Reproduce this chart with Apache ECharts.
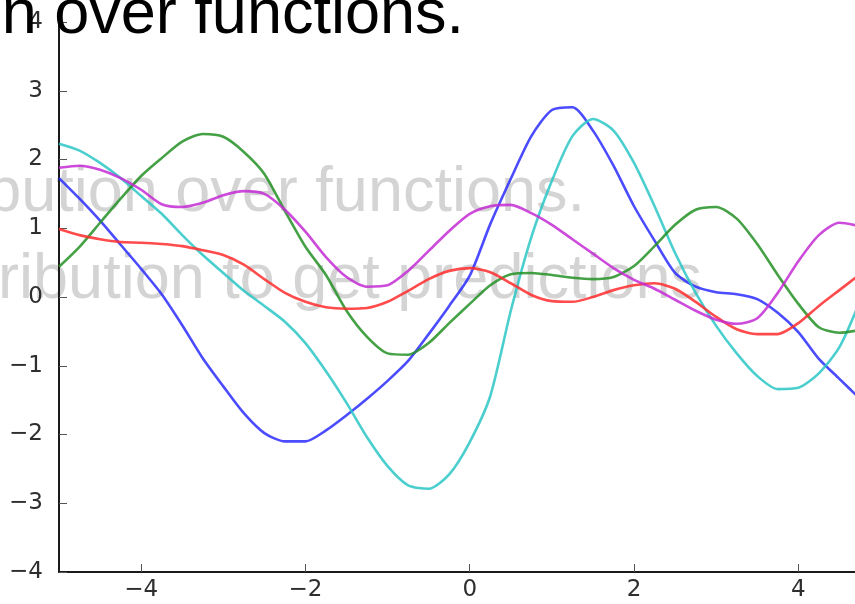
<!DOCTYPE html>
<html>
<head>
<meta charset="utf-8">
<script src="https://cdn.jsdelivr.net/npm/echarts@6/dist/echarts.min.js"></script>
<style>
  html, body { margin: 0; padding: 0; background: #fff; }
  #chart { width: 855px; height: 604px; }
</style>
</head>
<body>
<div id="chart"></div>
<script>
// Five sample functions drawn from a Gaussian process prior, sampled every 0.25 on x.
const xs = [-5, -4.75, -4.5, -4.25, -4, -3.75, -3.5, -3.25, -3, -2.75, -2.5, -2.25, -2, -1.75, -1.5, -1.25, -1, -0.75, -0.5, -0.25,
  0, 0.25, 0.5, 0.75, 1, 1.25, 1.5, 1.75, 2, 2.25, 2.5, 2.75, 3, 3.25, 3.5, 3.75, 4, 4.25, 4.5, 4.75];

const blueSample = [1.73, 1.43, 1.11, 0.76, 0.41, 0.04, -0.41, -0.89, -1.30, -1.69, -1.98, -2.10, -2.10, -1.94, -1.72, -1.48, -1.22, -0.93, -0.54, -0.13,
  0.31, 1.06, 1.72, 2.34, 2.72, 2.76, 2.42, 1.91, 1.32, 0.82, 0.35, 0.15, 0.07, 0.04, -0.03, -0.23, -0.51, -0.90, -1.19, -1.48];
const cyanSample = [2.23, 2.13, 1.95, 1.73, 1.47, 1.21, 0.90, 0.61, 0.35, 0.09, -0.13, -0.36, -0.67, -1.08, -1.54, -2.04, -2.46, -2.74, -2.79, -2.58,
  -2.11, -1.44, -0.20, 0.87, 1.69, 2.34, 2.59, 2.42, 1.95, 1.32, 0.64, 0.06, -0.42, -0.82, -1.15, -1.34, -1.32, -1.11, -0.73, -0.06];
const greenSample = [0.44, 0.73, 1.08, 1.43, 1.76, 2.02, 2.26, 2.37, 2.33, 2.11, 1.79, 1.25, 0.73, 0.32, -0.20, -0.58, -0.82, -0.84, -0.67, -0.38,
  -0.10, 0.17, 0.33, 0.35, 0.32, 0.28, 0.26, 0.29, 0.45, 0.74, 1.05, 1.27, 1.31, 1.14, 0.77, 0.32, -0.10, -0.44, -0.52, -0.48];
const redSample = [0.99, 0.90, 0.84, 0.80, 0.79, 0.77, 0.74, 0.68, 0.61, 0.47, 0.26, 0.06, -0.07, -0.15, -0.17, -0.16, -0.07, 0.09, 0.26, 0.38,
  0.42, 0.36, 0.20, 0.03, -0.06, -0.07, 0.00, 0.10, 0.17, 0.20, 0.12, -0.07, -0.29, -0.47, -0.54, -0.54, -0.38, -0.13, 0.10, 0.33];
const magentaSample = [1.88, 1.91, 1.85, 1.73, 1.56, 1.35, 1.31, 1.37, 1.48, 1.54, 1.50, 1.27, 0.95, 0.58, 0.29, 0.15, 0.17, 0.38, 0.67, 0.96,
  1.21, 1.32, 1.34, 1.22, 1.05, 0.84, 0.63, 0.42, 0.25, 0.12, -0.04, -0.20, -0.33, -0.39, -0.31, 0.06, 0.52, 0.90, 1.08, 1.03];

const xTicks = [-4, -2, 0, 2, 4];

const samples = [
  { values: blueSample, color: '#2b2bff' },
  { values: cyanSample, color: '#2cc6c6' },
  { values: greenSample, color: '#259125' },
  { values: redSample, color: '#ff2b2b' },
  { values: magentaSample, color: '#c42cd4' }
];

const fmt = v => (v < 0 ? '\u2212' + Math.abs(v) : String(v));
const tickFont = { fontFamily: 'DejaVu Sans', fontSize: 23, color: '#2e2e2e' };
const slideFont = '63px "Liberation Sans", Arial, sans-serif';

const chart = echarts.init(document.getElementById('chart'), null, { renderer: 'canvas' });
chart.setOption({
  animation: false,
  backgroundColor: '#ffffff',
  grid: { left: 59, right: 0, top: 22, bottom: 32, containLabel: false },
  xAxis: {
    type: 'value', min: -5, max: 4.69,
    axisLine: { show: true, onZero: false, lineStyle: { color: '#1a1a1a', width: 2 } },
    axisTick: { show: true, inside: true, length: 8, customValues: xTicks, lineStyle: { color: '#555', width: 1 } },
    axisLabel: Object.assign({ customValues: xTicks, margin: 7, formatter: fmt }, tickFont),
    splitLine: { show: false }
  },
  yAxis: {
    type: 'value', min: -4, max: 4, interval: 1,
    axisLine: { show: true, onZero: false, lineStyle: { color: '#1a1a1a', width: 2 } },
    axisTick: { show: true, inside: true, length: 8, lineStyle: { color: '#555', width: 1 } },
    axisLabel: Object.assign({ margin: 16, formatter: fmt }, tickFont),
    splitLine: { show: false }
  },
  graphic: {
    elements: [
      { type: 'text', x: 585, y: 194, z: 0, silent: true,
        style: { text: 'bution over functions.', font: slideFont, fill: '#d4d4d4', align: 'right', verticalAlign: 'middle' } },
      { type: 'text', x: 702, y: 281, z: 0, silent: true,
        style: { text: 'ribution to get predictions', font: slideFont, fill: '#d4d4d4', align: 'right', verticalAlign: 'middle' } },
      { type: 'text', x: 464, y: 16, z: 100, silent: true,
        style: { text: 'n over functions.', font: slideFont, fill: '#000000', align: 'right', verticalAlign: 'middle' } }
    ]
  },
  series: samples.map(s => ({
    type: 'line',
    data: xs.map((x, i) => [x, s.values[i]]),
    showSymbol: false,
    smooth: 0.25,
    clip: true,
    z: 5,
    lineStyle: { color: s.color, width: 2.6, opacity: 0.85 }
  }))
});
</script>
</body>
</html>
